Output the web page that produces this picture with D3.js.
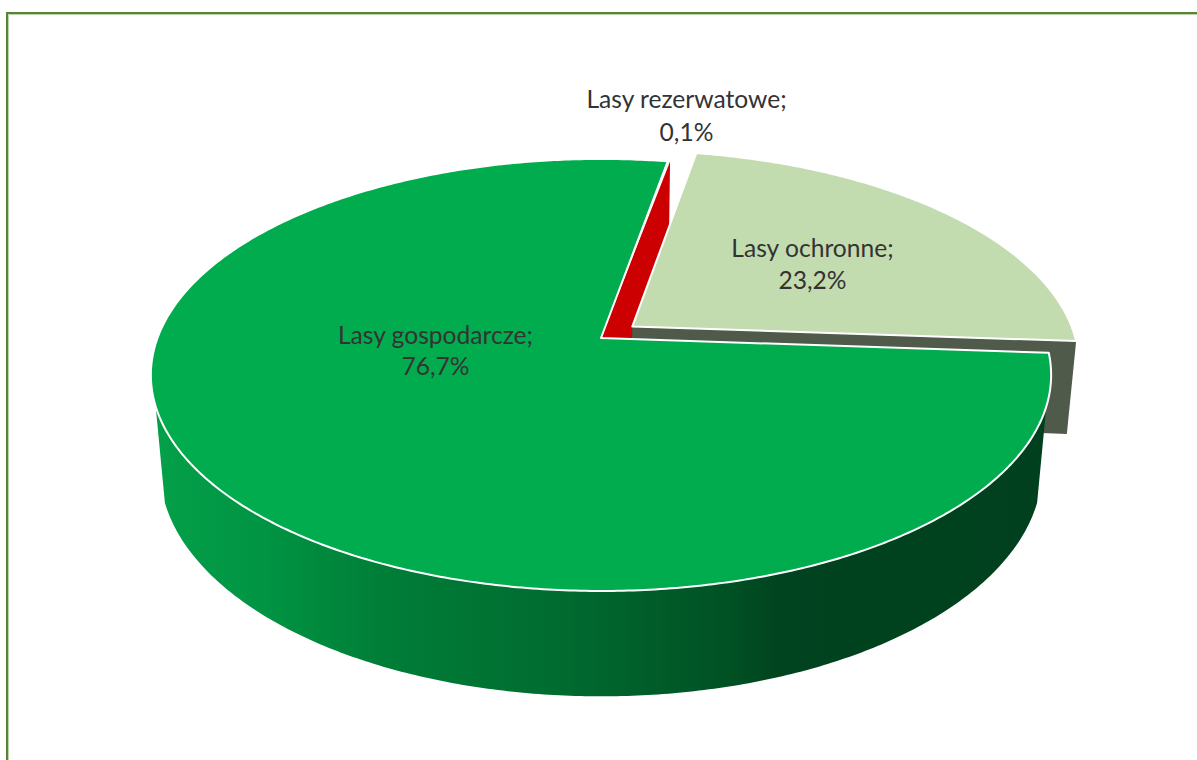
<!DOCTYPE html>
<html><head><meta charset="utf-8">
<script src="https://cdn.jsdelivr.net/npm/d3@7"></script>
<style>html,body{margin:0;padding:0;background:#fff}svg{display:block}</style>
</head><body><svg id="c" width="1197" height="760"></svg>
<script>
const categories = ["Lasy gospodarcze", "Lasy rezerwatowe", "Lasy ochronne"];
const values = [76.7, 0.1, 23.2];
const valueLabels = ["76,7%", "0,1%", "23,2%"];
const sliceColors = ["#00ac4e", "#cc0000", "#c3dcaf"];
const wallColors = ["#00ac4e", "#cc0000", "#4f5a4a"];
const explode = [0, 0, 0.09];
const labelPos = [[435.5, 336, 367], [686.5, 100, 133], [812.5, 249, 281]];

const svg = d3.select("#c");

// perspective model of the pie
const cx = 601, cy = 338, a = 443.5, b = 209.7, k = 0.171, c = 94.5, m = 0.02;
function proj(u, v, z) {
  const w = 1 - k * v + m * z;
  return [cx + a * u / w, cy + (b * v + c * z) / w];
}
const pie = d3.pie().sort(null).value(d => d)
  .startAngle(94 * Math.PI / 180).endAngle((94 + 360) * Math.PI / 180);
const arcs = pie(values);
const line = d3.line();

function offs(i, d) {
  const mid = (d.startAngle + d.endAngle) / 2, e = explode[i];
  return [e * Math.sin(mid), -e * Math.cos(mid)];
}
function rim(d, i, z, t0, t1) {
  const [ox, oy] = offs(i, d), pts = [];
  const n = Math.max(2, Math.ceil(Math.abs(t1 - t0) / 0.01));
  for (let j = 0; j <= n; j++) {
    const t = t0 + (t1 - t0) * j / n;
    pts.push(proj(Math.sin(t) + ox, -Math.cos(t) + oy, z));
  }
  return pts;
}
function centre(d, i, z) { const [ox, oy] = offs(i, d); return proj(ox, oy, z); }
function topPath(d, i) {
  return line([centre(d, i, 0), ...rim(d, i, 0, d.startAngle, d.endAngle)]) + "Z";
}
function radialWall(d, i, t) {
  const [ox, oy] = offs(i, d);
  return line([centre(d, i, 0), proj(Math.sin(t) + ox, -Math.cos(t) + oy, 0),
               proj(Math.sin(t) + ox, -Math.cos(t) + oy, 1), centre(d, i, 1)]) + "Z";
}

// outer wall shading
const defs = svg.append("defs");
const grad = defs.append("linearGradient").attr("id", "wall")
  .attr("gradientUnits", "userSpaceOnUse").attr("x1", 151).attr("x2", 1052).attr("y1", 0).attr("y2", 0);
[[0, "#04a049"], [0.127, "#009443"], [0.255, "#007e38"], [0.45, "#006c30"], [0.64, "#005124"], [0.70, "#00431f"], [1, "#00401e"]]
  .forEach(s => grad.append("stop").attr("offset", s[0]).attr("stop-color", s[1]));

// frame
svg.append("path").attr("d", "M8.5 760V14.5H1197").attr("fill", "none").attr("stroke", "#bcd4ab").attr("stroke-width", 1);
svg.append("path").attr("d", "M7 760V13H1197").attr("fill", "none").attr("stroke", "#568334").attr("stroke-width", 2);

const g = svg.append("g");
// red radial wall seen in the gap
g.append("path").attr("d", radialWall(arcs[1], 1, arcs[1].endAngle)).attr("fill", wallColors[1]);
// ochronne radial wall
g.append("path").attr("d", radialWall(arcs[2], 2, arcs[2].endAngle)).attr("fill", wallColors[2]);
g.append("path").attr("d", topPath(arcs[2], 2)).attr("fill", sliceColors[2]).attr("stroke", "#fff").attr("stroke-width", 2).attr("stroke-linejoin", "round");
// green outer wall, between its two silhouette generators
const d0 = arcs[0];
const wallStart = 108 * Math.PI / 180, wallEnd = 252 * Math.PI / 180;
g.append("path").attr("d", line([...rim(d0, 0, 0, wallStart, wallEnd), ...rim(d0, 0, 1, wallEnd, wallStart)]) + "Z")
  .attr("fill", "url(#wall)");
g.append("path").attr("d", topPath(d0, 0)).attr("fill", sliceColors[0]).attr("stroke", "#fff").attr("stroke-width", 2).attr("stroke-linejoin", "round");

// labels
categories.forEach((name, i) => {
  const [x, y1, y2] = labelPos[i];
  const t = svg.append("text").attr("text-anchor", "middle").attr("font-family", "Lato").attr("font-size", 24.6).attr("fill", "#333333");
  t.append("tspan").attr("x", x).attr("y", y1 + 8).text(name + ";");
  t.append("tspan").attr("x", x).attr("y", y2 + 8).text(valueLabels[i]);
});
</script></body></html>
